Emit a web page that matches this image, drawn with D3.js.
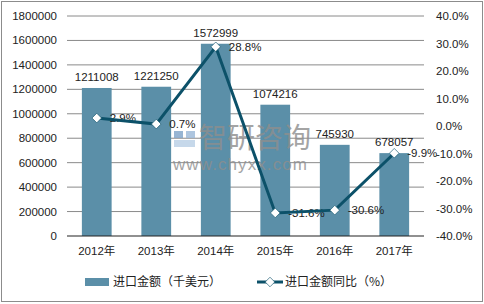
<!DOCTYPE html>
<html>
<head>
<meta charset="utf-8">
<script src="https://cdn.jsdelivr.net/npm/d3@7"></script>
<style>
  html, body { margin: 0; padding: 0; background: #fff; overflow: hidden; }
  svg { display: block; }
  text { font-family: "Liberation Sans", Arial, "Noto Sans CJK SC", sans-serif; }
</style>
</head>
<body>
<svg id="chart"></svg>
<script>
const years = ['2012年', '2013年', '2014年', '2015年', '2016年', '2017年'];
const amounts = [1211008, 1221250, 1572999, 1074216, 745930, 678057];
const growth = [2.9, 0.7, 28.8, -31.6, -30.6, -9.9];
const leftTicks = [0, 200000, 400000, 600000, 800000, 1000000, 1200000, 1400000, 1600000, 1800000];
const rightTicks = [-40, -30, -20, -10, 0, 10, 20, 30, 40];
const legendNames = ['进口金额（千美元）', '进口金额同比（%）'];

const width = 484, height = 304;
const plot = {left: 67, right: 424, top: 16, bottom: 236};
const barColor = '#5b8fa8';
const lineColor = '#0c5169';
const textColor = '#222';
const fontSize = '11.5px';

const svg = d3.select('#chart')
    .attr('width', width)
    .attr('height', height);

// outer frame
svg.append('rect')
    .attr('x', 1.5).attr('y', 1.5)
    .attr('width', width - 3).attr('height', height - 4)
    .attr('fill', 'none')
    .attr('stroke', '#8c8c8c');

const xscale = d3.scaleBand()
    .domain(years)
    .range([plot.left, plot.right])
    .paddingInner(0.5)
    .paddingOuter(0.25);

const yleft = d3.scaleLinear()
    .domain([0, 1800000])
    .range([plot.bottom, plot.top]);

const yright = d3.scaleLinear()
    .domain([-40, 40])
    .range([plot.bottom, plot.top]);

const cx = i => xscale(years[i]) + xscale.bandwidth() / 2;

// gridlines
svg.append('g')
    .selectAll('line')
    .data(leftTicks.filter(d => d > 0))
    .join('line')
    .attr('x1', plot.left).attr('x2', plot.right)
    .attr('y1', d => yleft(d)).attr('y2', d => yleft(d))
    .attr('stroke', '#8a8a8a')
    .attr('stroke-width', 1);

// left axis labels
const leftFmt = d3.format('d');
svg.append('g')
    .selectAll('text')
    .data(leftTicks)
    .join('text')
    .attr('x', plot.left - 10)
    .attr('y', d => yleft(d))
    .attr('dy', '0.35em')
    .attr('text-anchor', 'end')
    .attr('font-size', fontSize)
    .attr('fill', textColor)
    .text(d => leftFmt(d));

// right axis labels
svg.append('g')
    .selectAll('text')
    .data(rightTicks)
    .join('text')
    .attr('x', plot.right + 12)
    .attr('y', d => yright(d))
    .attr('dy', '0.35em')
    .attr('font-size', fontSize)
    .attr('fill', textColor)
    .text(d => d.toFixed(1) + '%');

// bars
svg.selectAll('.bar')
    .data(amounts)
    .join('rect')
    .attr('class', 'bar')
    .attr('x', (d, i) => xscale(years[i]))
    .attr('y', d => yleft(d))
    .attr('width', xscale.bandwidth())
    .attr('height', d => plot.bottom - yleft(d))
    .attr('fill', barColor);

// bar labels
svg.selectAll('.bar-label')
    .data(amounts)
    .join('text')
    .attr('class', 'bar-label')
    .attr('x', (d, i) => cx(i))
    .attr('y', d => yleft(d) - 7)
    .attr('text-anchor', 'middle')
    .attr('font-size', fontSize)
    .attr('fill', textColor)
    .text(d => d);

// x axis line and labels
svg.append('line')
    .attr('x1', plot.left).attr('x2', plot.right)
    .attr('y1', yleft(0)).attr('y2', yleft(0))
    .attr('stroke', '#222')
    .attr('stroke-width', 1.2);
svg.append('g')
    .selectAll('text')
    .data(years)
    .join('text')
    .attr('x', (d, i) => cx(i))
    .attr('y', plot.bottom + 11)
    .attr('dy', '0.71em')
    .attr('text-anchor', 'middle')
    .attr('font-size', fontSize)
    .attr('fill', textColor)
    .text(d => d);

// watermark
const wm = svg.append('g').attr('opacity', 0.8);
wm.append('rect').attr('x', 174).attr('y', 131).attr('width', 9).attr('height', 7).attr('fill', '#7ea3c9');
wm.append('rect').attr('x', 186).attr('y', 131).attr('width', 9).attr('height', 7).attr('fill', '#9ab8d8');
wm.append('rect').attr('x', 174).attr('y', 140).attr('width', 21).attr('height', 7).attr('fill', '#b9cfe6');
wm.append('text')
    .attr('x', 199).attr('y', 148)
    .attr('font-size', '28px')
    .attr('fill', '#8e8e8e')
    .style('font-family', '"Noto Sans CJK SC", sans-serif')
    .text('智研咨询');
wm.append('text')
    .attr('x', 173).attr('y', 170)
    .attr('font-size', '17px')
    .attr('fill', '#8e8e8e')
    .attr('textLength', 134)
    .text('www.chyxx.com');

// growth labels (drawn under the line)
svg.selectAll('.line-label')
    .data(growth)
    .join('text')
    .attr('class', 'line-label')
    .attr('x', (d, i) => cx(i) + 13)
    .attr('y', d => yright(d))
    .attr('dy', '0.35em')
    .attr('font-size', fontSize)
    .attr('fill', textColor)
    .text(d => d.toFixed(1) + '%');

// line
const line = d3.line()
    .x((d, i) => cx(i))
    .y(d => yright(d));
svg.append('path')
    .datum(growth)
    .attr('d', line)
    .attr('fill', 'none')
    .attr('stroke', lineColor)
    .attr('stroke-width', 3);

const diamond = d3.symbol().type(d3.symbolSquare).size(46);
svg.selectAll('.marker')
    .data(growth)
    .join('path')
    .attr('class', 'marker')
    .attr('d', diamond)
    .attr('transform', (d, i) => `translate(${cx(i)}, ${yright(d)}) rotate(45)`)
    .attr('fill', '#fff')
    .attr('stroke', lineColor)
    .attr('stroke-width', 0.6);

// legend
const ly = 282;
svg.append('rect')
    .attr('x', 85).attr('y', ly - 4)
    .attr('width', 24).attr('height', 8)
    .attr('fill', barColor);
svg.append('text')
    .attr('x', 113).attr('y', ly).attr('dy', '0.35em')
    .attr('font-size', '12px')
    .attr('fill', textColor)
    .style('font-family', '"Noto Sans CJK SC", sans-serif')
    .text(legendNames[0]);
svg.append('line')
    .attr('x1', 257).attr('x2', 283)
    .attr('y1', ly).attr('y2', ly)
    .attr('stroke', lineColor)
    .attr('stroke-width', 3);
svg.append('path')
    .attr('d', diamond)
    .attr('transform', `translate(270, ${ly}) rotate(45)`)
    .attr('fill', '#fff')
    .attr('stroke', lineColor)
    .attr('stroke-width', 0.6);
svg.append('text')
    .attr('x', 285).attr('y', ly).attr('dy', '0.35em')
    .attr('font-size', '12px')
    .attr('fill', textColor)
    .style('font-family', '"Noto Sans CJK SC", sans-serif')
    .text(legendNames[1]);
</script>
</body>
</html>
